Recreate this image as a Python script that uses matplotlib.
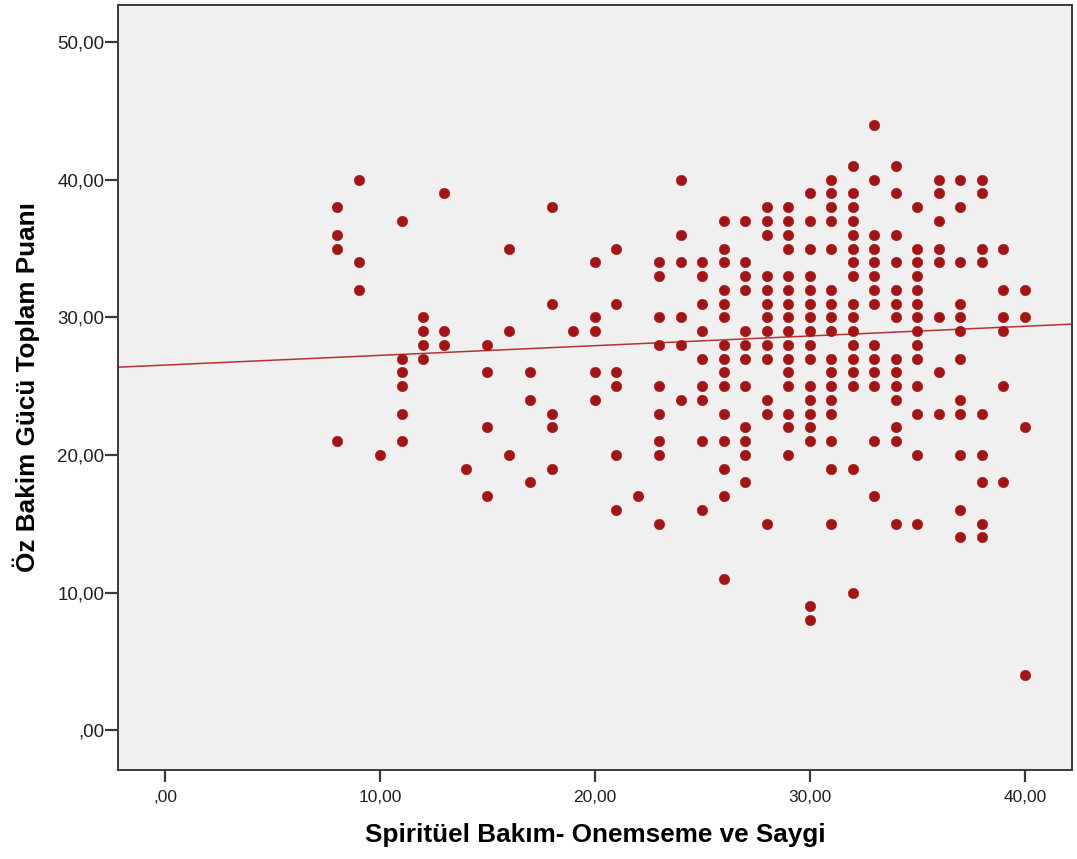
import numpy as np
import matplotlib
matplotlib.use("Agg")
import matplotlib.pyplot as plt

# =============================
# DATA
# =============================

# x value -> list of y values shown in that column
SPIRITUEL_X = [8, 9, 10, 11, 12, 13, 14, 15, 16, 17, 18, 19, 20, 21, 22, 23, 24,
               25, 26, 27, 28, 29, 30, 31, 32, 33, 34, 35, 36, 37, 38, 39, 40]

OZ_BAKIM_Y = [
    [38, 36, 35, 21],
    [40, 34, 32],
    [20],
    [37, 27, 26, 25, 23, 21],
    [30, 29, 28, 27],
    [39, 29, 28],
    [19],
    [28, 26, 22, 17],
    [35, 29, 20],
    [26, 24, 18],
    [38, 31, 23, 22, 19],
    [29],
    [34, 30, 29, 26, 24],
    [35, 31, 26, 25, 20, 16],
    [17],
    [34, 33, 30, 28, 25, 23, 21, 20, 15],
    [40, 36, 34, 30, 28, 24],
    [34, 33, 31, 29, 27, 25, 24, 21, 16],
    [37, 35, 34, 32, 31, 30, 28, 27, 26, 25, 23, 21, 19, 17, 11],
    [37, 34, 33, 32, 29, 28, 27, 25, 22, 21, 20, 18],
    [38, 37, 36, 33, 32, 31, 30, 29, 28, 27, 24, 23, 15],
    [38, 37, 36, 35, 33, 32, 31, 30, 29, 28, 27, 26, 25, 23, 22, 20],
    [39, 37, 35, 33, 32, 31, 30, 29, 28, 27, 25, 24, 23, 22, 21, 9, 8],
    [40, 39, 38, 37, 35, 32, 31, 30, 29, 27, 26, 25, 24, 23, 21, 19, 15],
    [41, 39, 38, 37, 36, 35, 34, 33, 31, 30, 29, 28, 27, 26, 25, 19, 10],
    [44, 40, 36, 35, 34, 33, 32, 31, 28, 27, 26, 25, 21, 17],
    [41, 39, 36, 34, 32, 31, 30, 27, 26, 25, 24, 22, 21, 15],
    [38, 35, 34, 33, 32, 31, 30, 29, 28, 27, 25, 23, 20, 15],
    [40, 39, 37, 35, 34, 30, 26, 23],
    [40, 38, 34, 31, 30, 29, 27, 24, 23, 20, 16, 14],
    [40, 39, 35, 34, 23, 20, 18, 15, 14],
    [35, 32, 30, 29, 25, 18],
    [32, 30, 22, 4],
]

# fit line as drawn in the chart
FIT_INTERCEPT = 26.53
FIT_SLOPE = 0.0705

X_TICKS = [0, 10, 20, 30, 40]
Y_TICKS = [0, 10, 20, 30, 40, 50]

X_LABEL = "Spiritüel Bakım- Onemseme ve Saygi"
Y_LABEL = "Öz Bakim Gücü Toplam Puanı"

# =============================
# STYLE
# =============================

PANEL_COLOR = "#F0F0F0"
DOT_COLOR = "#A41414"
LINE_COLOR = "#B83232"
SPINE_COLOR = "#3A3A3A"

SANS = ["Liberation Sans", "DejaVu Sans"]


def fmt_comma(v):
    s = f"{v:.2f}".replace(".", ",")
    return s[1:] if s.startswith("0") else s


xs, ys = [], []
for x, col in zip(SPIRITUEL_X, OZ_BAKIM_Y):
    xs.extend([x] * len(col))
    ys.extend(col)

fig = plt.figure(figsize=(10.77, 8.59), dpi=100)
fig.patch.set_facecolor("white")
ax = fig.add_axes([0.1096, 0.1036, 0.8858, 0.8906])
ax.set_facecolor(PANEL_COLOR)

ax.plot(xs, ys, "o", color=DOT_COLOR, ms=7.6, mec=DOT_COLOR, mew=0.3, zorder=3)
ax.axline((0, FIT_INTERCEPT), slope=FIT_SLOPE, color=LINE_COLOR, lw=1.1, zorder=2)

ax.set_xlim(-2.19, 42.2)
ax.set_ylim(-2.9, 52.7)

ax.set_xticks(X_TICKS)
ax.set_xticklabels([fmt_comma(v) for v in X_TICKS], family=SANS, fontsize=12.5,
                   color="#202020")
ax.set_yticks(Y_TICKS)
ax.set_yticklabels([fmt_comma(v) for v in Y_TICKS], family=SANS, fontsize=13.5,
                   color="#202020")

ax.tick_params(axis="x", length=8.6, width=1.6, pad=6, color=SPINE_COLOR)
ax.tick_params(axis="y", length=9.4, width=1.6, pad=0.5, color=SPINE_COLOR)

for spine in ax.spines.values():
    spine.set_color(SPINE_COLOR)
    spine.set_linewidth(1.4)

ax.set_xlabel(X_LABEL, family=SANS, fontsize=18.8, fontweight="bold", labelpad=13)
ax.set_ylabel(Y_LABEL, family=SANS, fontsize=18.8, fontweight="bold", labelpad=12)

fig.savefig("out.png", dpi=100, facecolor="white")
